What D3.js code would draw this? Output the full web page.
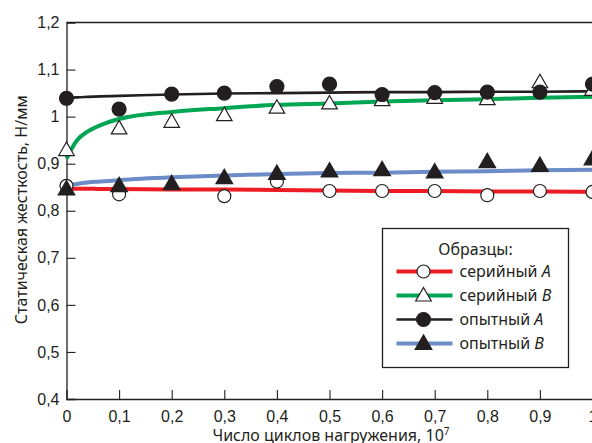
<!DOCTYPE html>
<html>
<head>
<meta charset="utf-8">
<script src="https://cdn.jsdelivr.net/npm/d3@7"></script>
<style>
  html, body { margin: 0; padding: 0; background: #fff; }
  svg { display: block; font-family: "Noto Sans", "Open Sans", sans-serif; }
</style>
</head>
<body>
<div id="chart"></div>
<script>
// marker x positions, 10^7 cycles
const CYCLES = [0, 0.1, 0.2, 0.3, 0.4, 0.5, 0.6, 0.7, 0.8, 0.9, 1.0];

const SERIAL_A = [0.853, 0.835, null, 0.831, 0.862, 0.842, 0.842, 0.842, 0.833, 0.842, 0.840];
const SERIAL_B = [0.929, 0.975, 0.989, 1.003, 1.019, 1.028, 1.035, 1.040, 1.037, 1.073, 1.057];
const EXPER_A = [1.039, 1.016, 1.048, 1.050, 1.064, 1.069, 1.047, 1.051, 1.052, 1.052, 1.069];
const EXPER_B = [0.846, 0.853, 0.857, 0.870, 0.879, 0.884, 0.887, 0.882, 0.904, 0.896, 0.910];

// approximating curves, also
const FIT_X = [0, 0.02, 0.04, 0.065, 0.1, 0.2, 0.3, 0.4, 0.5, 0.6, 0.7, 0.8, 0.9, 1.0];
const FIT_SERIAL_A = [0.847, 0.847, 0.847, 0.846, 0.846, 0.845, 0.845, 0.844, 0.843, 0.842, 0.842, 0.841, 0.841, 0.840];
const FIT_SERIAL_B = [0.911, 0.950, 0.968, 0.982, 0.995, 1.010, 1.018, 1.025, 1.028, 1.032, 1.035, 1.037, 1.040, 1.042];
const FIT_EXPER_A = [1.039, 1.041, 1.042, 1.043, 1.044, 1.047, 1.049, 1.050, 1.051, 1.052, 1.052, 1.053, 1.053, 1.054];
const FIT_EXPER_B = [0.853, 0.857, 0.860, 0.862, 0.865, 0.871, 0.875, 0.878, 0.880, 0.881, 0.883, 0.884, 0.886, 0.887];

const X_TICKS = [0, 0.1, 0.2, 0.3, 0.4, 0.5, 0.6, 0.7, 0.8, 0.9, 1];
const Y_TICKS = [0.4, 0.5, 0.6, 0.7, 0.8, 0.9, 1, 1.1, 1.2];

const SERIES = [
  { name: "серийный", letter: "A", points: SERIAL_A, fit: FIT_SERIAL_A, color: "#ed1c24", width: 4, marker: "circle", filled: false },
  { name: "серийный", letter: "B", points: SERIAL_B, fit: FIT_SERIAL_B, color: "#00a651", width: 4, marker: "triangle", filled: false },
  { name: "опытный", letter: "A", points: EXPER_A, fit: FIT_EXPER_A, color: "#231f20", width: 2.6, marker: "circle", filled: true },
  { name: "опытный", letter: "B", points: EXPER_B, fit: FIT_EXPER_B, color: "#6b8cc7", width: 4, marker: "triangle", filled: true }
];

const W = 592, H = 443;
const FONT = "16px";

const svg = d3.select("#chart").append("svg")
  .attr("width", W).attr("height", H);

const x = d3.scaleLinear().domain([0, 1]).range([66.5, 592.5]);
const y = d3.scaleLinear().domain([0.4, 1.2]).range([399, 22.5]);

const INK = "#231f20";
const fmt = d => String(d).replace(".", ",");

// frame: top line
svg.append("line")
  .attr("x1", x(0)).attr("x2", W + 2)
  .attr("y1", y(1.2)).attr("y2", y(1.2))
  .attr("stroke", INK).attr("stroke-width", 1.3);

// axes with inward ticks
const xAxis = svg.append("g")
  .attr("transform", `translate(0,${y(0.4)})`)
  .call(d3.axisBottom(x).tickValues(X_TICKS).tickSize(-9).tickPadding(12).tickFormat(fmt));
const yAxis = svg.append("g")
  .attr("transform", `translate(${x(0)},0)`)
  .call(d3.axisLeft(y).tickValues(Y_TICKS).tickSize(-9).tickPadding(7).tickFormat(fmt));

[xAxis, yAxis].forEach(g => {
  g.select(".domain").attr("stroke", INK).attr("stroke-width", 1.3);
  g.selectAll(".tick line").attr("stroke", INK).attr("stroke-width", 1.1);
  g.selectAll(".tick text").attr("fill", INK).style("font-size", FONT);
});
xAxis.selectAll(".tick").filter(d => d === 0).select("line").remove();
yAxis.selectAll(".tick").filter(d => d === 0.4 || d === 1.2).select("line").remove();

// axis titles
svg.append("text")
  .attr("x", 331).attr("y", 441)
  .attr("text-anchor", "middle")
  .attr("fill", INK).style("font-size", FONT)
  .text("Число циклов нагружения, 10")
  .append("tspan").attr("dy", -6).style("font-size", "10px").text("7");

svg.append("text")
  .attr("transform", `translate(27,${y(0.8) - 1}) rotate(-90)`)
  .attr("text-anchor", "middle")
  .attr("fill", INK).style("font-size", FONT)
  .text("Статическая жесткость, Н/мм");

// fitted curves
const line = d3.line()
  .x((d, i) => x(FIT_X[i]))
  .y(d => y(d))
  .curve(d3.curveMonotoneX);

const plot = svg.append("g");

SERIES.forEach(s => {
  plot.append("path")
    .datum(s.fit)
    .attr("d", line)
    .attr("fill", "none")
    .attr("stroke", s.color)
    .attr("stroke-width", s.width);
});

const tri = d3.symbol().type(d3.symbolTriangle);

function drawMarker(g, s, cx, cy) {
  const fill = s.filled ? INK : "#fff";
  if (s.marker === "circle") {
    g.append("circle")
      .attr("cx", cx).attr("cy", cy)
      .attr("r", s.filled ? 7 : 6.5)
      .attr("fill", fill)
      .attr("stroke", INK).attr("stroke-width", 1.2);
  } else {
    g.append("path")
      .attr("d", tri.size(s.filled ? 120 : 105)())
      .attr("transform", `translate(${cx},${cy + 1})`)
      .attr("fill", fill)
      .attr("stroke", INK).attr("stroke-width", 1.2);
  }
}

// markers: open symbols first, then filled
SERIES.forEach(s => {
  s.points.forEach((v, i) => {
    if (v == null) return;
    drawMarker(plot, s, x(CYCLES[i]), y(v));
  });
});

// legend
const lg = svg.append("g").attr("transform", "translate(382.5,228.5)");
lg.append("rect")
  .attr("width", 186).attr("height", 139)
  .attr("fill", "#fff")
  .attr("stroke", INK).attr("stroke-width", 1.3);
lg.append("text")
  .attr("x", 93).attr("y", 26)
  .attr("text-anchor", "middle")
  .attr("fill", INK).style("font-size", FONT)
  .text("Образцы:");

SERIES.forEach((s, i) => {
  const ry = 43 + i * 24;
  lg.append("line")
    .attr("x1", 14).attr("x2", 70)
    .attr("y1", ry).attr("y2", ry)
    .attr("stroke", s.color).attr("stroke-width", s.width);
  drawMarker(lg, s, 41, ry);
  const t = lg.append("text")
    .attr("x", 77).attr("y", ry + 5)
    .attr("fill", INK).style("font-size", FONT)
    .text(s.name + " ");
  t.append("tspan").style("font-style", "italic").text(s.letter);
});
</script>
</body>
</html>
